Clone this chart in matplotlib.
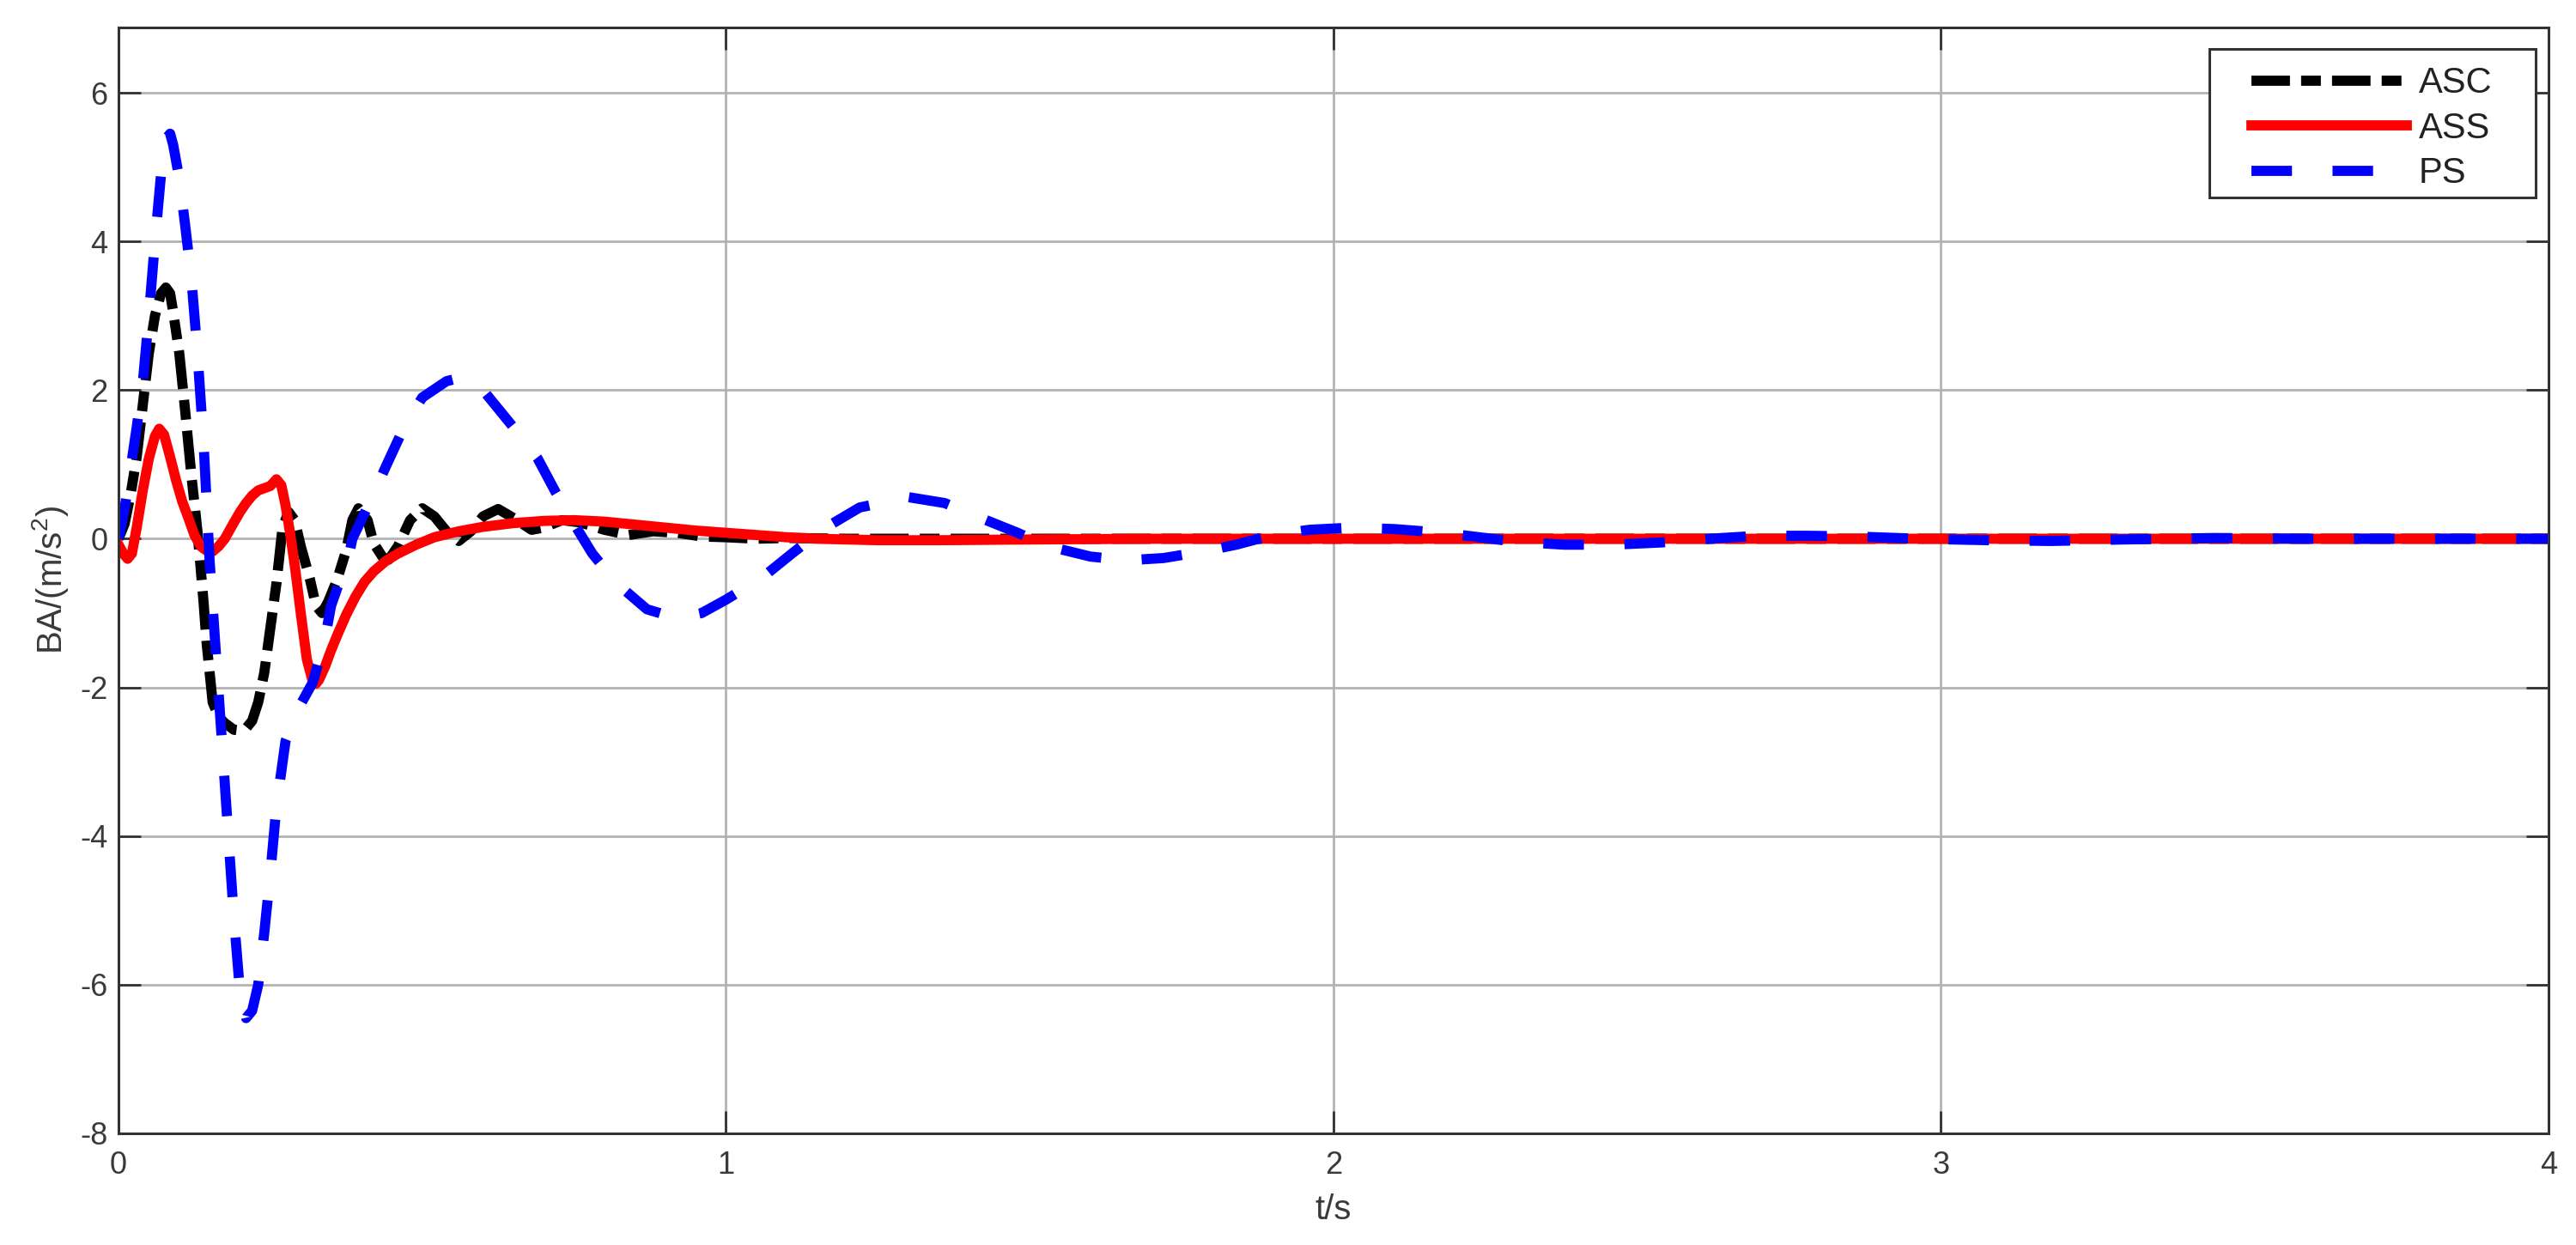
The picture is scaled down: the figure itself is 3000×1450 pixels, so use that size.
"""
plot.py
-------
Body acceleration response of ASC / ASS / PS suspensions (MATLAB-style figure).
"""

import matplotlib
matplotlib.use("Agg")
import matplotlib.pyplot as plt
from matplotlib.patches import Rectangle

# -- Data --------------------------------------------------------------------
t_asc = [0.0, 0.01, 0.02, 0.03, 0.04, 0.05, 0.06, 0.07, 0.078, 0.085, 0.09,
         0.10, 0.11, 0.12, 0.13, 0.14, 0.145, 0.155, 0.165, 0.175, 0.19, 0.20,
         0.21, 0.22, 0.23, 0.24, 0.25, 0.26, 0.27, 0.28, 0.29, 0.30, 0.315,
         0.325, 0.335, 0.345, 0.36, 0.375, 0.385, 0.395, 0.41, 0.42, 0.435,
         0.445, 0.46, 0.48, 0.50, 0.52, 0.54, 0.56, 0.58, 0.60, 0.625, 0.65,
         0.68, 0.70, 0.73, 0.76, 0.80, 0.84, 0.88, 0.92, 0.96, 1.00, 1.05,
         1.10, 1.20, 1.50, 2.00, 3.00, 4.00]
y_asc = [0.0, 0.2, 0.6, 1.1, 1.8, 2.5, 3.0, 3.3, 3.38, 3.3, 3.05,
         2.5, 1.7, 0.85, 0.1, -0.85, -1.4, -2.2, -2.4, -2.48, -2.57, -2.58,
         -2.55, -2.45, -2.2, -1.8, -1.2, -0.6, 0.15, 0.36, 0.25, -0.1, -0.54,
         -0.9, -1.0, -0.85, -0.55, -0.15, 0.25, 0.41, 0.25, -0.06, -0.25,
         -0.28, -0.1, 0.25, 0.41, 0.3, 0.1, -0.03, 0.1, 0.3, 0.4, 0.28,
         0.12, 0.15, 0.25, 0.22, 0.12, 0.05, 0.1, 0.08, 0.03, 0.02, 0.0,
         0.01, 0.0, 0.0, 0.0, 0.0, 0.0]

t_ass = [0.0, 0.008, 0.015, 0.022, 0.03, 0.04, 0.05, 0.06, 0.067, 0.075,
         0.085, 0.095, 0.105, 0.115, 0.125, 0.135, 0.145, 0.155, 0.165, 0.175,
         0.188, 0.20, 0.21, 0.22, 0.23, 0.24, 0.25, 0.26, 0.268, 0.275, 0.282,
         0.29, 0.30, 0.31, 0.32, 0.325, 0.33, 0.34, 0.35, 0.36, 0.375, 0.39,
         0.405, 0.42, 0.44, 0.46, 0.49, 0.52, 0.56, 0.60, 0.65, 0.70, 0.75,
         0.80, 0.85, 0.90, 0.95, 1.00, 1.05, 1.10, 1.15, 1.25, 1.35, 1.50,
         1.70, 2.00, 3.00, 4.00]
y_ass = [-0.08, -0.2, -0.27, -0.2, 0.15, 0.65, 1.08, 1.38, 1.48, 1.4,
         1.1, 0.78, 0.5, 0.28, 0.05, -0.1, -0.16, -0.17, -0.1, 0.0,
         0.19, 0.36, 0.48, 0.58, 0.65, 0.68, 0.71, 0.8, 0.72, 0.45, 0.1,
         -0.35, -1.0, -1.62, -1.93, -1.95, -1.9, -1.72, -1.5, -1.3, -1.02, -0.78,
         -0.58, -0.44, -0.3, -0.2, -0.08, 0.02, 0.1, 0.16, 0.21, 0.24, 0.25,
         0.23, 0.19, 0.15, 0.11, 0.08, 0.05, 0.02, 0.0, -0.02, -0.02, -0.01,
         0.0, 0.0, 0.0, 0.0]

t_ps = [0.0, 0.01, 0.02, 0.03, 0.04, 0.05, 0.06, 0.07, 0.08, 0.085, 0.09,
        0.10, 0.11, 0.12, 0.13, 0.14, 0.15, 0.16, 0.17, 0.18, 0.19, 0.20,
        0.21, 0.22, 0.23, 0.24, 0.25, 0.26, 0.275, 0.295, 0.32, 0.34, 0.35,
        0.38, 0.385, 0.42, 0.44, 0.47, 0.50, 0.54, 0.57, 0.60, 0.65, 0.69,
        0.72, 0.75, 0.78, 0.82, 0.87, 0.92, 0.96, 1.00, 1.06, 1.11, 1.16,
        1.22, 1.30, 1.36, 1.41, 1.48, 1.53, 1.60, 1.66, 1.72, 1.78, 1.84,
        1.90, 1.96, 2.03, 2.10, 2.18, 2.24, 2.30, 2.38, 2.46, 2.54, 2.62,
        2.70, 2.78, 2.86, 2.96, 3.08, 3.18, 3.30, 3.45, 3.60, 3.80, 4.00]
y_ps = [0.0, 0.4, 0.95, 1.5, 2.1, 3.0, 4.0, 4.9, 5.4, 5.45, 5.3,
        4.85, 4.2, 3.5, 2.5, 1.3, -0.3, -1.5, -2.7, -3.9, -5.1, -6.1,
        -6.45, -6.35, -6.0, -5.3, -4.5, -3.6, -2.72, -2.3, -1.93, -1.34, -0.9,
        -0.2, 0.0, 0.6, 0.97, 1.5, 1.9, 2.12, 2.18, 2.0, 1.5, 1.08,
        0.62, 0.2, -0.2, -0.6, -0.95, -1.07, -1.0, -0.82, -0.52, -0.19, 0.13,
        0.42, 0.56, 0.48, 0.31, 0.08, -0.1, -0.24, -0.29, -0.26, -0.18, -0.08,
        0.05, 0.12, 0.15, 0.13, 0.08, 0.02, -0.04, -0.08, -0.08, -0.05, 0.0,
        0.04, 0.04, 0.03, 0.0, -0.02, -0.03, -0.01, 0.01, 0.0, 0.0, 0.0]

series_labels = ["ASC", "ASS", "PS"]
x_ticks = [0, 1, 2, 3, 4]
y_ticks = [-8, -6, -4, -2, 0, 2, 4, 6]

# -- Style ---------------------------------------------------------------------
plt.rcParams["font.family"] = ["Liberation Sans", "DejaVu Sans"]
plt.rcParams["mathtext.fontset"] = "custom"
plt.rcParams["mathtext.rm"] = "Liberation Sans"
plt.rcParams["mathtext.it"] = "Liberation Sans:italic"
plt.rcParams["axes.unicode_minus"] = False

AX_COLOR = "#333333"
TXT_COLOR = "#3a3a3a"
LW = 8.5

fig = plt.figure(figsize=(30, 14.5), dpi=100)
ax = fig.add_axes([0.046, 0.0897, 0.9433, 0.8883])

ax.plot(t_asc, y_asc, color="black", lw=LW, dashes=(3.8, 1.1, 1.95, 1.1),
        dash_capstyle="butt", label=series_labels[0])
ax.plot(t_ass, y_ass, color="#ff0000", lw=LW, solid_joinstyle="round",
        label=series_labels[1])
ax.plot(t_ps, y_ps, color="#0000ff", lw=LW, dashes=(4.0, 4.0),
        dash_capstyle="butt", label=series_labels[2])

ax.set_xlim(0, 4)
ax.set_ylim(-8, 6.88)
ax.set_xticks(x_ticks)
ax.set_yticks(y_ticks)
ax.grid(True, color="#b3b3b3", lw=2.0)
ax.set_axisbelow(True)

for sp in ax.spines.values():
    sp.set_color(AX_COLOR)
    sp.set_linewidth(2.2)

ax.tick_params(axis="both", which="both", direction="in", length=19,
               width=2, color=AX_COLOR, labelcolor=TXT_COLOR,
               labelsize=26, top=True, right=True)
ax.tick_params(axis="y", pad=9)
ax.tick_params(axis="x", pad=14.5)

ax.set_xlabel("t/s", fontsize=29, color=TXT_COLOR, labelpad=11)
ax.set_ylabel(r"BA/(m/s$^{2}$)", fontsize=29, color=TXT_COLOR, labelpad=8)

# legend: MATLAB-like box with wide side margins, drawn as a separate frame
frame = Rectangle((0.8604, 0.8463), 0.1343, 0.1343, transform=ax.transAxes,
                  facecolor="white", edgecolor=AX_COLOR, lw=2.2, zorder=4.9)
ax.add_patch(frame)
leg = ax.legend(loc="upper left", bbox_to_anchor=(0.8777, 0.9647),
                borderaxespad=0, borderpad=0, fontsize=30, handlelength=4.35,
                handletextpad=0.33, labelspacing=0.3, frameon=False)
leg.set_zorder(5)
for txt in leg.get_texts():
    txt.set_color("#222222")

fig.savefig("out.png", dpi=100)
plt.close(fig)
